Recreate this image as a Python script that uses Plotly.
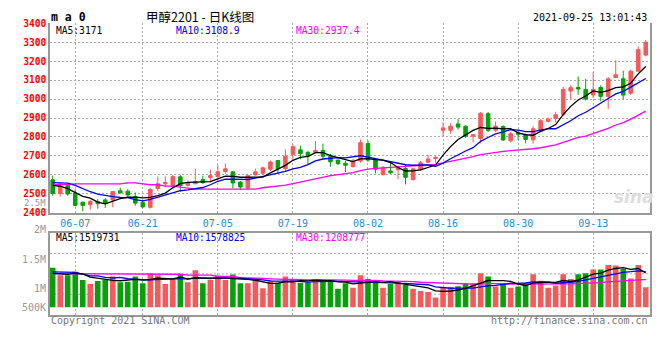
import plotly.graph_objects as go

# ---------------- data ----------------
dates = [
    "2021-06-02", "2021-06-03", "2021-06-04",
    "2021-06-07", "2021-06-08", "2021-06-09", "2021-06-10", "2021-06-11",
    "2021-06-15", "2021-06-16", "2021-06-17", "2021-06-18",
    "2021-06-21", "2021-06-22", "2021-06-23", "2021-06-24", "2021-06-25",
    "2021-06-28", "2021-06-29", "2021-06-30",
    "2021-07-01", "2021-07-02",
    "2021-07-05", "2021-07-06", "2021-07-07", "2021-07-08", "2021-07-09",
    "2021-07-12", "2021-07-13", "2021-07-14", "2021-07-15", "2021-07-16",
    "2021-07-19", "2021-07-20", "2021-07-21", "2021-07-22", "2021-07-23",
    "2021-07-26", "2021-07-27", "2021-07-28", "2021-07-29", "2021-07-30",
    "2021-08-02", "2021-08-03", "2021-08-04", "2021-08-05", "2021-08-06",
    "2021-08-09", "2021-08-10", "2021-08-11", "2021-08-12", "2021-08-13",
    "2021-08-16", "2021-08-17", "2021-08-18", "2021-08-19", "2021-08-20",
    "2021-08-23", "2021-08-24", "2021-08-25", "2021-08-26", "2021-08-27",
    "2021-08-30", "2021-08-31",
    "2021-09-01", "2021-09-02", "2021-09-03",
    "2021-09-06", "2021-09-07", "2021-09-08", "2021-09-09", "2021-09-10",
    "2021-09-13", "2021-09-14", "2021-09-15", "2021-09-16", "2021-09-17",
    "2021-09-22", "2021-09-23", "2021-09-24",
]

opens = [2574, 2502, 2545, 2504, 2456, 2442, 2459, 2468, 2468, 2516,
         2514, 2485, 2454, 2429, 2528, 2553, 2540, 2590, 2545, 2553,
         2575, 2586, 2591, 2618, 2616, 2562, 2530, 2600, 2609, 2630,
         2676, 2632, 2708, 2732, 2719, 2719, 2729, 2698, 2678, 2661,
         2644, 2673, 2765, 2678, 2601, 2621, 2627, 2634, 2575, 2627,
         2667, 2686, 2835, 2835, 2869, 2857, 2804, 2792, 2923, 2835,
         2855, 2780, 2822, 2812, 2785, 2835, 2882, 2897, 2920, 3042,
         3061, 3051, 3022, 3061, 3014, 3113, 3107, 3031, 3147, 3232]
highs = [2596, 2555, 2550, 2524, 2458, 2468, 2472, 2477, 2514, 2533,
         2524, 2507, 2468, 2531, 2592, 2592, 2600, 2601, 2570, 2633,
         2596, 2628, 2651, 2659, 2621, 2567, 2601, 2633, 2644, 2676,
         2678, 2734, 2761, 2754, 2727, 2780, 2765, 2711, 2681, 2673,
         2684, 2787, 2780, 2688, 2647, 2662, 2649, 2652, 2637, 2673,
         2707, 2698, 2877, 2872, 2894, 2862, 2816, 2932, 2932, 2882,
         2862, 2826, 2838, 2817, 2857, 2894, 2903, 2933, 3065, 3073,
         3119, 3107, 3142, 3073, 3116, 3205, 3150, 3155, 3278, 3312]
lows = [2490, 2485, 2490, 2434, 2408, 2417, 2422, 2425, 2429, 2502,
        2485, 2437, 2426, 2422, 2516, 2536, 2530, 2514, 2538, 2550,
        2553, 2560, 2577, 2605, 2528, 2519, 2519, 2596, 2601, 2621,
        2605, 2621, 2682, 2683, 2657, 2713, 2686, 2643, 2651, 2615,
        2638, 2664, 2669, 2608, 2596, 2605, 2577, 2550, 2570, 2621,
        2661, 2664, 2804, 2817, 2838, 2795, 2771, 2766, 2826, 2826,
        2780, 2771, 2784, 2766, 2764, 2831, 2877, 2877, 2912, 3000,
        3022, 2993, 3005, 2988, 2949, 3113, 3000, 3022, 3143, 3225]
closes = [2502, 2552, 2499, 2439, 2439, 2459, 2448, 2451, 2512, 2505,
          2494, 2451, 2431, 2523, 2553, 2560, 2591, 2543, 2557, 2565,
          2559, 2596, 2616, 2632, 2557, 2536, 2596, 2616, 2637, 2668,
          2632, 2698, 2749, 2712, 2698, 2729, 2698, 2669, 2659, 2651,
          2673, 2770, 2678, 2630, 2637, 2611, 2638, 2587, 2632, 2664,
          2684, 2693, 2848, 2857, 2852, 2804, 2812, 2925, 2835, 2857,
          2784, 2817, 2814, 2787, 2843, 2886, 2894, 2917, 3051, 3060,
          3053, 3000, 3051, 3014, 3107, 3128, 3021, 3147, 3261, 3300]
volumes_k = [1741, 1413, 1413, 1570, 1199, 1027, 1156, 1199, 1356, 1099,
             1127, 1356, 1056, 1484, 1413, 1027, 1270, 1441, 1099, 1627,
             1056, 1199, 1398, 1199, 1441, 1056, 1056, 1199, 842, 1127,
             1085, 1356, 1199, 1085, 1099, 1241, 1227, 1199, 813, 1056,
             856, 1413, 1241, 1099, 856, 1027, 1099, 985, 813, 714,
             671, 428, 885, 885, 928, 1056, 1056, 1498, 1356, 913,
             1056, 856, 913, 1056, 1456, 1170, 856, 956, 1456, 1241,
             1456, 1498, 1670, 1670, 1869, 1841, 1698, 1270, 1869, 885]
volumes = [v * 1000 for v in volumes_k]

# moving-average values before enough history is visible
ma5_head = [2545, 2540, 2527, 2505]
ma10_head = [2559, 2559, 2557, 2545, 2528, 2511, 2499, 2490, 2485]
ma30_head = [2548, 2548, 2550, 2553, 2553, 2553, 2553, 2553, 2553, 2553,
             2558, 2558, 2553, 2548, 2548, 2541, 2541, 2535, 2531, 2525,
             2525, 2525, 2525, 2525, 2528, 2528, 2528, 2525, 2532]
vma5_head = [1500000, 1470000, 1450000, 1500000]
vma10_head = [1556000, 1556000, 1556000, 1540000, 1456000, 1384000, 1384000,
              1313000, 1290000]
vma30_head = [1484000, 1484000, 1484000, 1484000, 1484000,
              1456000, 1456000, 1456000, 1456000, 1456000, 1456000, 1456000,
              1456000, 1456000, 1456000, 1456000, 1456000, 1456000,
              1413000, 1413000, 1413000, 1413000,
              1356000, 1356000, 1356000, 1300000, 1300000, 1270000, 1270000]

tick_dates = ["2021-06-07", "2021-06-21", "2021-07-05", "2021-07-19",
              "2021-08-02", "2021-08-16", "2021-08-30", "2021-09-13"]
tick_labels = ["06-07", "06-21", "07-05", "07-19",
               "08-02", "08-16", "08-30", "09-13"]
price_ticks = [2400, 2500, 2600, 2700, 2800, 2900, 3000, 3100, 3200, 3300, 3400]
vol_axis_labels = ["2M", "1.5M", "1M", "500K"]

price_ma_labels = ["MA5:3171", "MA10:3108.9", "MA30:2937.4"]
vol_ma_labels = ["MA5:1519731", "MA10:1578825", "MA30:1208777"]
title_text = "甲醇2201 - 日K线图"
symbol_text = "m a 0"
stamp_text = "2021-09-25 13:01:43"

# ---------------- helpers ----------------
def moving_avg(values, n, head):
    out = list(head)
    for i in range(len(head), len(values)):
        win = values[i - n + 1:i + 1]
        out.append(sum(win) / n)
    return out

ma5 = moving_avg(closes, 5, ma5_head)
ma10 = moving_avg(closes, 10, ma10_head)
ma30 = moving_avg(closes, 30, ma30_head)
vma5 = moving_avg(volumes, 5, vma5_head)
vma10 = moving_avg(volumes, 10, vma10_head)
vma30 = moving_avg(volumes, 30, vma30_head)

RED = "#f45a5a"
GREEN = "#07a007"
MA_COLORS = ["#000000", "#0000ff", "#ff00ff"]
GRID = "#aaaaaa"
FRAME = "#999999"
MONO = "DejaVu Sans Mono"

W, H = 660, 360
def px(x):
    return x / W
def py(y):
    return 1 - y / H

bar_colors = [RED if c >= o else GREEN for o, c in zip(opens, closes)]

fig = go.Figure()

fig.add_trace(go.Candlestick(
    x=dates, open=opens, high=highs, low=lows, close=closes,
    increasing=dict(line=dict(color=RED, width=1), fillcolor=RED),
    decreasing=dict(line=dict(color=GREEN, width=1), fillcolor=GREEN),
    whiskerwidth=0, xaxis="x", yaxis="y", showlegend=False,
))
for vals, col in zip([ma30, ma10, ma5], MA_COLORS[::-1]):
    fig.add_trace(go.Scatter(x=dates, y=vals, mode="lines",
                             line=dict(color=col, width=1.3),
                             xaxis="x", yaxis="y", showlegend=False))

fig.add_trace(go.Bar(x=dates, y=volumes, marker=dict(color=bar_colors, line=dict(width=0)),
                     xaxis="x2", yaxis="y2", showlegend=False))
for vals, col in zip([vma30, vma10, vma5], MA_COLORS[::-1]):
    fig.add_trace(go.Scatter(x=dates, y=vals, mode="lines",
                             line=dict(color=col, width=1.3),
                             xaxis="x2", yaxis="y2", showlegend=False))

xdom = [px(50), px(649.5)]
xrange = [-0.36, 79.5]
common_x = dict(type="category", domain=xdom, range=xrange,
                tickmode="array", tickvals=tick_dates, ticktext=tick_labels,
                showgrid=True, gridcolor=GRID, griddash="2px,2px", gridwidth=1,
                showline=True, linecolor=FRAME, linewidth=1.5,
                ticks="", zeroline=False, fixedrange=True)

fig.update_layout(
    width=W, height=H, autosize=False,
    margin=dict(l=0, r=0, t=0, b=0, pad=0),
    paper_bgcolor="white", plot_bgcolor="white",
    boxgap=0.32, bargap=0.26,
    showlegend=False,
    xaxis=dict(**common_x, anchor="y", rangeslider=dict(visible=False),
               tickfont=dict(family=MONO, size=10, color="#2a8ad8")),
    yaxis=dict(domain=[py(213.3), py(17.8)], range=[2400, 3400], anchor="x",
               tickmode="array", tickvals=price_ticks,
               ticktext=[str(t) for t in price_ticks],
               tickfont=dict(family=MONO, size=9.6, color="#ff0000", weight="bold"),
               showgrid=True, gridcolor=GRID, griddash="2px,2px", gridwidth=1,
               showline=True, mirror=True, linecolor=FRAME, linewidth=1.5,
               ticks="", zeroline=False, fixedrange=True),
    xaxis2=dict(**common_x, anchor="y2", mirror=True, showticklabels=False),
    yaxis2=dict(domain=[py(318.3), py(234.3)], range=[-325000, 3270000], anchor="x2",
                showticklabels=False, showgrid=False,
                showline=True, mirror=True, linecolor=FRAME, linewidth=1.5,
                ticks="", zeroline=False, fixedrange=True),
)

# volume panel horizontal dotted grid (quarters of the panel)
for f in [0.25, 0.5, 0.75]:
    fig.add_shape(type="line", xref="x2 domain", yref="y2 domain",
                  x0=0, x1=1, y0=f, y1=f,
                  line=dict(color=GRID, width=1, dash="2px,2px"), layer="below")

ann = []
def text(s, x, y, color="#000000", size=10, anchor="left", family=MONO):
    ann.append(dict(text=s, x=px(x), y=py(y), xref="paper", yref="paper",
                    xanchor=anchor, yanchor="middle", showarrow=False, borderpad=0,
                    font=dict(family=family, size=size, color=color)))

text("<b>" + symbol_text + "</b>", 50, 11.5, size=11.5)
text(title_text, 200, 10.5, size=12.5, anchor="center", family="Noto Sans CJK SC")
text(stamp_text, 648, 12, size=10, anchor="right")

for lbl, x, col in zip(price_ma_labels, [55, 175, 295], MA_COLORS):
    text(lbl, x, 25, color=col, size=9.6)
for lbl, x, col in zip(vol_ma_labels, [55, 175, 295], MA_COLORS):
    text(lbl, x, 239, color=col, size=9.6)

for lbl, y in zip(vol_axis_labels, [230.5, 261, 291, 311]):
    text(lbl, 47, y, color="#999999", size=10, anchor="right")
text("2.5M", 47, 203.5, color="#999999", size=9, anchor="right")

text("Copyright 2021 SINA.COM", 50, 324, color="#777777", size=10)
text("http://finance.sina.com.cn", 649, 324, color="#777777", size=10, anchor="right")
text("<b><i>sina</i></b>", 634, 197, color="#dddddd", size=17, anchor="center",
     family="DejaVu Sans")

fig.update_layout(annotations=ann)

fig.write_html(
    "out.html",
    config={"displayModeBar": False},
    post_script="document.body.style.margin='0';document.body.style.overflow='hidden';",
)
